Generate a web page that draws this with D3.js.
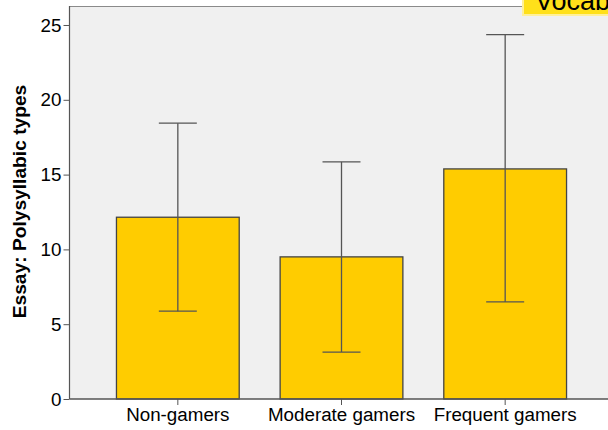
<!DOCTYPE html>
<html>
<head>
<meta charset="utf-8">
<script src="https://cdn.jsdelivr.net/npm/d3@7/dist/d3.min.js"></script>
<style>
  html, body { margin: 0; padding: 0; background: #ffffff; }
  svg { display: block; font-family: "Liberation Sans", Arial, sans-serif; }
</style>
</head>
<body>
<svg id="chart" width="608" height="430"></svg>
<script>
// Mean polysyllabic types per group, with error bar bounds
const categories = ["Non-gamers", "Moderate gamers", "Frequent gamers"];
const means = [12.15, 9.5, 15.38];
const lowerBounds = [5.87, 3.14, 6.49];
const upperBounds = [18.44, 15.85, 24.35];
const yTicks = [0, 5, 10, 15, 20, 25];
const yTitle = "Essay: Polysyllabic types";
const calloutText = "Vocab";

const svg = d3.select("#chart");
const plot = { left: 69.5, top: 6, right: 640, bottom: 399 };
const labelFont = "18.8px";

// plot background
svg.append("rect")
  .attr("x", plot.left).attr("y", plot.top)
  .attr("width", plot.right - plot.left).attr("height", plot.bottom - plot.top)
  .attr("fill", "#f0f0f0");

const y = d3.scaleLinear().domain([0, 26.27]).range([plot.bottom, plot.top]);
const x = d3.scaleBand().domain(categories).range([96, 587])
  .paddingInner(0.25).paddingOuter(0.125);

// top frame line
svg.append("line")
  .attr("x1", plot.left).attr("x2", plot.right)
  .attr("y1", plot.top + 0.5).attr("y2", plot.top + 0.5)
  .attr("stroke", "#8a8a8a").attr("stroke-width", 1);

// bars
svg.selectAll("rect.bar").data(categories).join("rect")
  .attr("class", "bar")
  .attr("x", d => x(d))
  .attr("y", (d, i) => y(means[i]))
  .attr("width", x.bandwidth())
  .attr("height", (d, i) => y(0) - y(means[i]))
  .attr("fill", "#ffcc00")
  .attr("stroke", "#444444").attr("stroke-width", 1.3);

// error bars
const eb = svg.append("g").attr("stroke", "#555555").attr("stroke-width", 1.3);
const capHalf = 19;
categories.forEach((c, i) => {
  const cx = x(c) + x.bandwidth() / 2;
  eb.append("line").attr("x1", cx).attr("x2", cx)
    .attr("y1", y(lowerBounds[i])).attr("y2", y(upperBounds[i]));
  eb.append("line").attr("x1", cx - capHalf).attr("x2", cx + capHalf)
    .attr("y1", y(upperBounds[i])).attr("y2", y(upperBounds[i]));
  eb.append("line").attr("x1", cx - capHalf).attr("x2", cx + capHalf)
    .attr("y1", y(lowerBounds[i])).attr("y2", y(lowerBounds[i]));
});

// y axis
const yAxis = svg.append("g")
  .attr("transform", `translate(${plot.left},0)`)
  .call(d3.axisLeft(y).tickValues(yTicks).tickSize(6).tickPadding(2).tickSizeOuter(0));
yAxis.select(".domain").attr("stroke", "#555555").attr("stroke-width", 1.2)
  .attr("d", `M0,${plot.top}V${plot.bottom}`);
yAxis.selectAll(".tick line").attr("stroke", "#555555");
yAxis.selectAll(".tick text").attr("fill", "#000").style("font-size", labelFont)
  .style("font-family", "'Liberation Sans', Arial, sans-serif");

// x axis
const xAxis = svg.append("g")
  .attr("transform", `translate(0,${plot.bottom})`)
  .call(d3.axisBottom(x).tickSize(6).tickPadding(3).tickSizeOuter(0));
xAxis.select(".domain").attr("stroke", "#555555").attr("stroke-width", 1.5)
  .attr("d", `M${plot.left},0H${plot.right}`);
xAxis.selectAll(".tick line").attr("stroke", "#555555");
xAxis.selectAll(".tick text").attr("fill", "#000").style("font-size", labelFont)
  .style("font-family", "'Liberation Sans', Arial, sans-serif");

// y axis title
svg.append("text")
  .attr("transform", "translate(25.5,201.5) rotate(-90)")
  .attr("text-anchor", "middle")
  .style("font-size", "19.2px").style("font-weight", "bold")
  .text(yTitle);

// callout label in the top-right corner
const callout = svg.append("g");
callout.append("rect")
  .attr("x", 523).attr("y", -20).attr("width", 100).attr("height", 35)
  .attr("fill", "#ffe01a").attr("stroke", "#fff09a").attr("stroke-width", 2);
callout.append("text")
  .attr("x", 535).attr("y", 9.5)
  .style("font-size", "27px")
  .text(calloutText);
</script>
</body>
</html>
